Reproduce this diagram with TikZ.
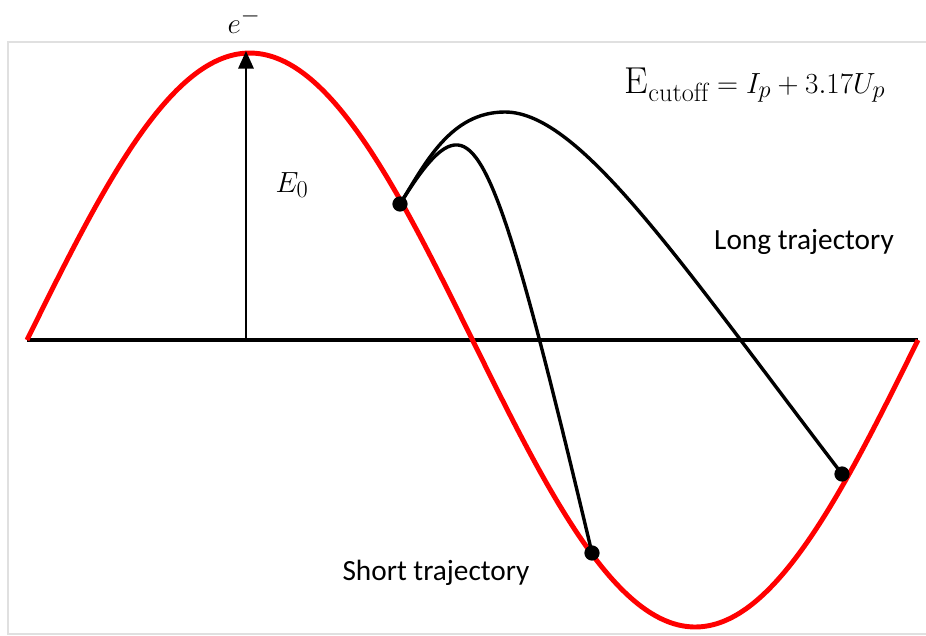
\documentclass[tikz,border=0pt]{standalone}
\usepackage{fontspec}
\newfontfamily\calib{Carlito}
\usetikzlibrary{arrows.meta}
\tikzset{
  wave/.style={draw=red, line width=4.2pt},
  traj/.style={draw=black, line width=2.9pt},
  axisline/.style={draw=black, line width=3.3pt},
  frameline/.style={draw=black!12, line width=0.9pt},
  dotmark/.style={circle, fill=black, inner sep=0pt, minimum size=13pt},
  lbl/.style={font=\calib\fontsize{25}{30}\selectfont, inner sep=0pt},
  mathlbl/.style={font=\fontsize{30}{36}\selectfont, inner sep=0pt},
  eqlbl/.style={font=\fontsize{32}{38}\selectfont, inner sep=0pt}
}
\begin{document}
\begin{tikzpicture}[x=0.03cm, y=-0.03cm]
\useasboundingbox (0,0) rectangle (926,635);
% frame
\draw[frameline] (926,42) -- (8,42) -- (8,634) -- (926,634);
% axis
\coordinate (axL) at (27,340);
\coordinate (axR) at (918,340);
\draw[axisline] (axL) -- (axR);
% sine wave
\draw[wave] plot[domain=0:360, samples=120, smooth] ({27+2.475*\x},{340-287*sin(\x)});
% arrow
\coordinate (base) at (246,340);
\coordinate (tip) at (246,51);
\draw[line width=2.1pt, -{Triangle[length=15pt,width=13pt]}] (base) -- (tip);
% dots
\node[dotmark] (start) at (400,204) {};
\node[dotmark] (shortend) at (592,553) {};
\node[dotmark] (longend) at (842,474) {};
% trajectories
\draw[traj] (start.center) .. controls (420,172) and (440,143) .. (458,145)
  .. controls (490,148) and (520,250) .. (shortend.center);
\draw[traj] (start.center) .. controls (425,164) and (450,112) .. (505,112)
  .. controls (580,112) and (680,262) .. (longend.center);
% labels
\node[mathlbl] (em) at (244,21) {$e^{-}$};
\node[mathlbl] (e0) at (292,185) {$E_0$};
\node[eqlbl] (ecut) at (755,85) {$\mathrm{E}_{\mathrm{cutoff}}=I_p+3.17U_p$};
\node[lbl] (long) at (804,242) {Long trajectory};
\node[lbl] (short) at (436,573) {Short trajectory};
\end{tikzpicture}
\end{document}
